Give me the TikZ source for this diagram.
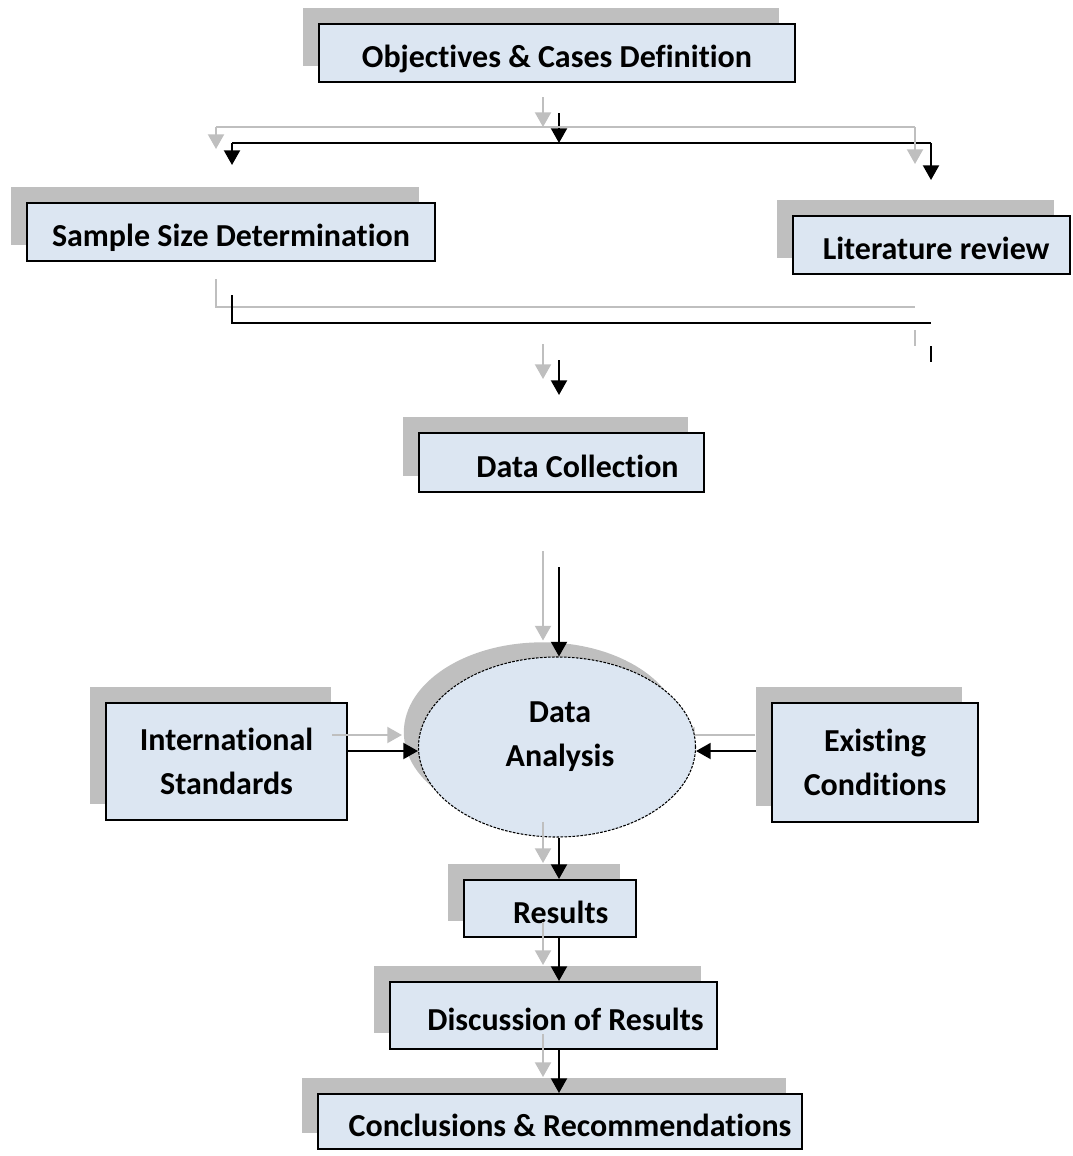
\documentclass[tikz,border=0pt]{standalone}
\usepackage{fontspec}
\setmainfont{Carlito}[Ligatures={NoCommon,NoContextual}]
\usetikzlibrary{arrows.meta,shapes.geometric,shadows}
\definecolor{shadowgray}{HTML}{BFBFBF}
\definecolor{boxfill}{HTML}{DCE6F2}
\pgfdeclarelayer{back}
\pgfsetlayers{back,main}
\begin{document}
\begin{tikzpicture}[x=0.75pt,y=-0.75pt,
  lbl/.style={font=\bfseries\fontsize{24pt}{33pt}\selectfont, align=center},
  box/.style 2 args={lbl, draw=black, line width=1.5pt, fill=boxfill, inner sep=0pt,
    rectangle, minimum width=#1*0.75pt, minimum height=#2*0.75pt,
    general shadow={fill=shadowgray, shadow xshift=-12pt, shadow yshift=12pt}},
  oneline/.style={text height=22pt, text depth=0pt},
  ellbox/.style={ellipse, draw=black, line width=0.8pt, dash pattern=on 2pt off 1pt,
    fill=boxfill, inner sep=0pt, minimum width=277*0.75pt, minimum height=180*0.75pt,
    general shadow={fill=shadowgray, shadow xshift=-11pt, shadow yshift=11pt}},
  ln/.style={draw=black, line width=1.5pt,
    preaction={draw=shadowgray, line width=1.5pt, transform canvas={shift={(-16,-16)}}}},
  arr/.style={draw=black, line width=1.5pt, -{Triangle[length=11pt,width=12pt]},
    preaction={draw=shadowgray, line width=1.5pt, -{Triangle[length=11pt,width=12pt]},
      transform canvas={shift={(-16,-16)}}}}
]
\useasboundingbox (0,0) rectangle (1072,1156);

% boxes
\node[box={476}{58}, oneline] (obj) at (557,53) {Objectives \& Cases Definition};
\node[box={408}{58}, oneline] (ssd) at (231,232) {Sample Size Determination};
\node[box={277}{58}, oneline] (lit) at (931.5,245) {\hspace*{7pt}Literature review};
\node[box={285}{59}, oneline] (dc) at (561.5,462.5) {\hspace*{24pt}Data Collection};
\node[ellbox] (ell) at (557,747) {};
\node[lbl] (elltxt) at (560,737) {Data\\Analysis};
\node[box={241}{117}] (is) at (226.5,761.5) {International\\Standards};
\node[box={206}{119}] (ec) at (875,762.5) {Existing\\Conditions};
\node[box={172}{57}, oneline] (res) at (550,908.5) {\hspace*{16pt}Results};
\node[box={327}{67}, oneline] (dis) at (553.5,1015.5) {\hspace*{18pt}Discussion of Results};
\node[box={484}{55}, oneline] (con) at (560,1121.5) {\hspace*{15pt}Conclusions \& Recommendations};

% connector points
\coordinate (j0) at (559,113);
\coordinate (j1) at (559,143);
\coordinate (jl) at (232,143);
\coordinate (jr) at (931,143);
\coordinate (al) at (232,165);
\coordinate (ar) at (931,180);
\coordinate (k0) at (232,295);
\coordinate (k2) at (931,323);
\coordinate (s0) at (931,346);
\coordinate (s1) at (931,362);
\coordinate (d0) at (559,360);
\coordinate (d1) at (559,395);
\coordinate (m0) at (559,567);
\coordinate (vx) at (559,0);
\coordinate (hy) at (0,751);

% connectors
\draw[arr] (j0) -- (j1);
\draw[ln] (jl) -- (jr);
\draw[arr] (jl) -- (al);
\draw[arr] (jr) -- (ar);
\draw[ln] (k0) |- (k2);
\draw[ln] (s0) -- (s1);
\draw[arr] (d0) -- (d1);
\draw[arr] (m0) -- (m0 |- ell.north);
\draw[arr] (is.east |- hy) -- (ell.west |- hy);
\begin{pgfonlayer}{back}
\draw[arr] (ec.west |- hy) -- (ell.east |- hy);
\end{pgfonlayer}
\draw[arr] (ell.south -| vx) -- (res.north -| vx);
\draw[arr] (res.south -| vx) -- (dis.north -| vx);
\draw[arr] (dis.south -| vx) -- (con.north -| vx);
\end{tikzpicture}
\end{document}
